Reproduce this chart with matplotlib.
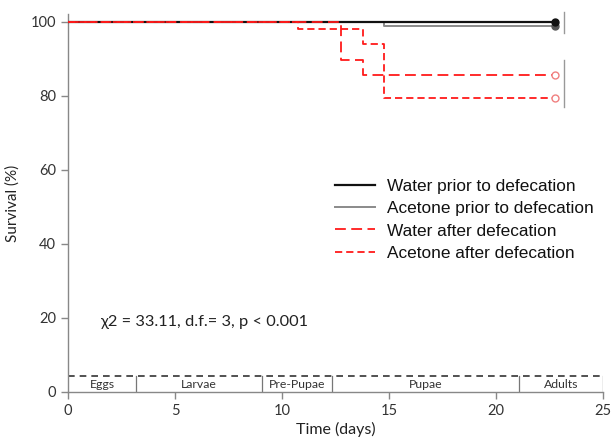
import matplotlib
matplotlib.use("Agg")
import matplotlib.pyplot as plt
import numpy as np

# Kaplan-Meier step curves (time in days, survival in %)
water_prior_t = [0, 22.76]
water_prior_s = [100, 100]

acetone_prior_t = [0, 14.78, 22.76]
acetone_prior_s = [100, 98.9, 98.9]

water_after_t = [0, 12.76, 13.8, 22.76]
water_after_s = [100, 89.6, 85.6, 85.6]

acetone_after_t = [0, 10.76, 13.8, 14.78, 22.76]
acetone_after_s = [100, 98.0, 94.0, 79.3, 79.3]

# group brackets at the right end (x, y_low, y_high)
bracket_x = 23.18
bracket_ranges = [(97.0, 102.6), (77.0, 89.6)]

# development stages along the bottom
stage_names = ["Eggs", "Larvae", "Pre-Pupae", "Pupae", "Adults"]
stage_edges = [0, 3.18, 9.07, 12.34, 21.08, 25]
stage_band = 4.2

stat_text = "χ2 = 33.11, d.f.= 3, p < 0.001"

LABEL_FONT = ["Lato", "DejaVu Sans"]
LEGEND_FONT = ["Liberation Sans", "DejaVu Sans"]


def main():
    fig = plt.figure(figsize=(6.12, 4.38), dpi=100)
    ax = fig.add_axes([0.1111, 0.1057, 0.8742, 0.8616])

    red = "#ff1a1a"
    ax.step(water_prior_t, water_prior_s, where="post", color="#111111", lw=1.6,
            label="Water prior to defecation", zorder=3)
    ax.step(acetone_prior_t, acetone_prior_s, where="post", color="#8a8a8a", lw=1.4,
            label="Acetone prior to defecation", zorder=2)
    ax.step(water_after_t, water_after_s, where="post", color=red, lw=1.3,
            dashes=(6, 3), label="Water after defecation", zorder=4)
    ax.step(acetone_after_t, acetone_after_s, where="post", color=red, lw=1.3,
            dashes=(4, 2.2), label="Acetone after defecation", zorder=4)

    # censor markers at the end of follow-up
    ax.plot(acetone_prior_t[-1], acetone_prior_s[-1], "o", ms=5, color="#555555", zorder=5)
    ax.plot(water_prior_t[-1], water_prior_s[-1], "o", ms=5, color="#111111", zorder=5)
    ax.plot(water_after_t[-1], water_after_s[-1], "o", ms=5, mfc="white",
            mec="#f08080", mew=1.0, zorder=5)
    ax.plot(acetone_after_t[-1], acetone_after_s[-1], "o", ms=5, mfc="white",
            mec="#f08080", mew=1.0, zorder=5)

    for lo, hi in bracket_ranges:
        ax.plot([bracket_x, bracket_x], [lo, hi], color="#999999", lw=1.0, clip_on=False)

    # stage band
    ax.plot([0, 25], [stage_band, stage_band], color="#333333", lw=1.2, dashes=(4, 3))
    for edge in stage_edges[1:]:
        ax.plot([edge, edge], [0, stage_band], color="#777777", lw=0.9)
    for i, name in enumerate(stage_names):
        mid = (stage_edges[i] + stage_edges[i + 1]) / 2
        ax.text(mid, stage_band / 2 - 0.1, name, ha="center", va="center",
                fontsize=8.8, color="#333333", family=LABEL_FONT)

    ax.text(1.5, 18.8, stat_text, ha="left", va="center", fontsize=11.8,
            color="#222222", family=LABEL_FONT)

    ax.set_xlim(0, 25)
    ax.set_ylim(0, 102)
    ax.set_xticks([0, 5, 10, 15, 20, 25])
    ax.set_yticks([0, 20, 40, 60, 80, 100])
    for side in ("top", "right"):
        ax.spines[side].set_visible(False)
    for side in ("left", "bottom"):
        ax.spines[side].set_color("#888888")
        ax.spines[side].set_linewidth(1.0)
    ax.tick_params(direction="out", length=5, width=1.0, color="#888888",
                   labelcolor="#333333", labelsize=10.5)
    for lbl in ax.get_xticklabels() + ax.get_yticklabels():
        lbl.set_family(LABEL_FONT)

    ax.set_xlabel("Time (days)", fontsize=11.5, color="#222222", family=LABEL_FONT, labelpad=3)
    ax.set_ylabel("Survival (%)", fontsize=11, color="#222222", family=LABEL_FONT, labelpad=8)

    leg = ax.legend(loc="upper left", bbox_to_anchor=(0.47, 0.605), frameon=False,
                    handlelength=2.35, handletextpad=0.7, labelspacing=0.42,
                    prop={"family": LEGEND_FONT, "size": 12.4})
    for txt in leg.get_texts():
        txt.set_color("#111111")

    fig.savefig("out.png", dpi=100)
    plt.close(fig)


if __name__ == "__main__":
    main()
